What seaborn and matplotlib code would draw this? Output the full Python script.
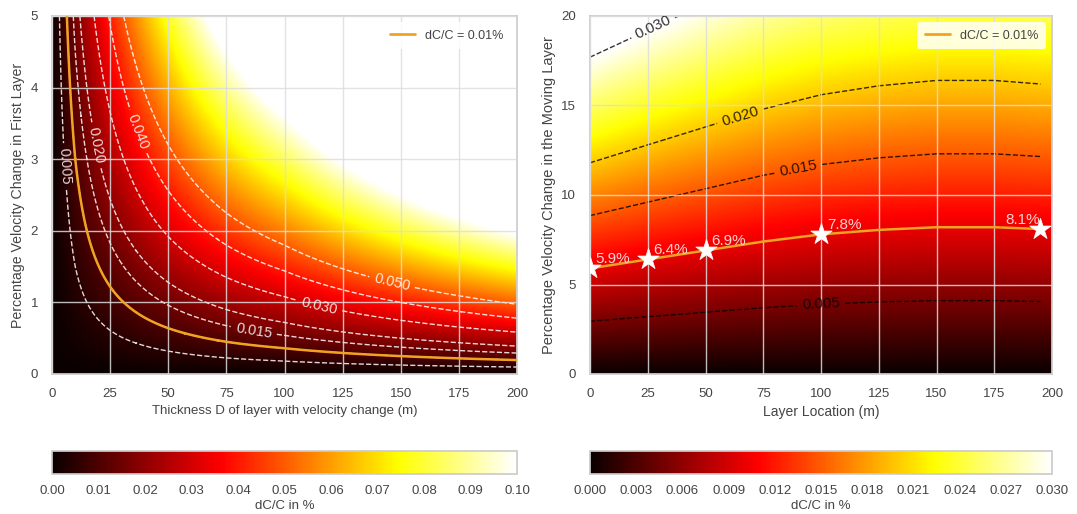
import numpy as np
import seaborn as sns
import matplotlib
matplotlib.use("Agg")
import matplotlib.pyplot as plt
from matplotlib.lines import Line2D

# --- values ---
# left panel: dC/C = 0.01% line (thickness D vs velocity change)
thick_line = [6.4, 10, 15, 25, 50, 75, 100, 150, 200]
dv_line_left = [5.0, 3.0, 2.0, 1.22, 0.64, 0.45, 0.36, 0.25, 0.195]
plain_lev_left = [0.010]
label_lev_left = [0.005, 0.015, 0.020, 0.030, 0.040, 0.050]
label_pos_left = [(7, 2.9), (87, 0.65), (20, 3.2), (115, 0.95), (38, 3.4), (146, 1.25)]

# right panel: dC/C = 0.01% line (layer location vs velocity change)
loc_line = [0, 25, 50, 75, 100, 125, 150, 175, 195]
dv_line_right = [5.9, 6.4, 6.9, 7.4, 7.8, 8.05, 8.2, 8.2, 8.1]
star_loc = [0, 25, 50, 100, 195]
star_dv = [5.9, 6.4, 6.9, 7.8, 8.1]
star_txt = ["5.9%", "6.4%", "6.9%", "7.8%", "8.1%"]
plain_lev_right = [0.010]
label_lev_right = [0.005, 0.015, 0.020, 0.030]
label_pos_right = [(100, 4.1), (90, 11.6), (65, 14.4), (30, 18.6)]

sns.set_theme(style="whitegrid")
plt.rcParams["font.family"] = ["Liberation Sans", "DejaVu Sans"]
plt.rcParams["font.size"] = 9.5
orange = "#f0a322"
txt_col = "#444444"
fs = 9.5

fig = plt.figure(figsize=(10.77, 5.14), dpi=100)
W, H = 1077, 514
def box(x0, y0, x1, y1):
    return [x0 / W, 1 - y1 / H, (x1 - x0) / W, (y1 - y0) / H]

ax1 = fig.add_axes(box(52, 16, 517, 374))
ax2 = fig.add_axes(box(590, 16, 1052, 374))
cax1 = fig.add_axes(box(52, 451, 517, 474))
cax2 = fig.add_axes(box(590, 451, 1052, 474))

# ---- left field ----
xs = np.linspace(0, 200, 801)
ys = np.linspace(0, 5, 501)
X, Y = np.meshgrid(xs, ys)
prod = np.interp(xs, thick_line, np.array(thick_line) * np.array(dv_line_left))
Z1 = 0.01 * X * Y / prod[None, :]
im1 = ax1.imshow(Z1, extent=[0, 200, 0, 5], origin="lower", aspect="auto",
                 cmap="hot", vmin=0, vmax=0.1, interpolation="bilinear", zorder=0)
ckw = dict(colors="white", linestyles="--", linewidths=1.0, alpha=0.85, zorder=1)
ax1.contour(X, Y, Z1, levels=plain_lev_left, **ckw)
cs1 = ax1.contour(X, Y, Z1, levels=label_lev_left, **ckw)
ax1.clabel(cs1, fmt="%.3f", fontsize=10.5, manual=label_pos_left, inline=True)
# the orange 0.01% line, traced through the field built from the read points
ax1.contour(X, Y, Z1, levels=[0.01], colors=orange, linewidths=1.8, zorder=3)
ax1.set_xlim(0, 200)
ax1.set_ylim(0, 5)
ax1.set_xticks(np.arange(0, 201, 25))
ax1.set_yticks(np.arange(0, 6, 1))
ax1.set_xlabel("Thickness D of layer with velocity change (m)", color=txt_col, fontsize=fs)
ax1.set_ylabel("Percentage Velocity Change in First Layer", color=txt_col, fontsize=10.2)

# ---- right field ----
xr = np.linspace(0, 200, 401)
yr = np.linspace(0, 20, 401)
XR, YR = np.meshgrid(xr, yr)
curve_r = np.interp(xr, loc_line, dv_line_right)
Z2 = 0.01 * YR / curve_r[None, :]
im2 = ax2.imshow(Z2, extent=[0, 200, 0, 20], origin="lower", aspect="auto",
                 cmap="hot", vmin=0, vmax=0.03, interpolation="bilinear", zorder=0)
m = xr <= 195
ckw2 = dict(colors="black", linestyles="--", linewidths=1.0, alpha=0.8, zorder=1)
ax2.contour(XR[:, m], YR[:, m], Z2[:, m], levels=plain_lev_right, **ckw2)
cs2 = ax2.contour(XR[:, m], YR[:, m], Z2[:, m], levels=label_lev_right, **ckw2)
ax2.clabel(cs2, fmt="%.3f", fontsize=11, manual=label_pos_right, inline=True)
sns.lineplot(x=loc_line, y=dv_line_right, ax=ax2, color=orange, lw=1.8,
             legend=False, zorder=3)
sns.scatterplot(x=star_loc, y=star_dv, ax=ax2, marker="*", s=260, color="white",
                edgecolor="white", linewidth=0.5, zorder=4, legend=False)
for xv, yv, t in zip(star_loc, star_dv, star_txt):
    dx = -15 if xv > 190 else 2.5
    ax2.text(xv + dx, yv + 0.3, t, color="#ffd2d2", fontsize=11, zorder=5)
ax2.set_xlim(0, 200)
ax2.set_ylim(0, 20)
ax2.set_xticks(np.arange(0, 201, 25))
ax2.set_yticks(np.arange(0, 21, 5))
ax2.set_xlabel("Layer Location (m)", color=txt_col, fontsize=10)
ax2.set_ylabel("Percentage Velocity Change in the Moving Layer", color=txt_col, fontsize=10.5)

for ax in (ax1, ax2):
    ax.set_axisbelow(False)
    ax.grid(True, color="#dddddd", lw=1.0, alpha=0.85, zorder=2)
    ax.tick_params(colors=txt_col, labelsize=fs, pad=4)
    for s in ax.spines.values():
        s.set_color("#cccccc")
    handle = Line2D([], [], color=orange, lw=2)
    leg = ax.legend([handle], ["dC/C = 0.01%"], loc="upper right", fontsize=9,
                    frameon=True, facecolor="white", framealpha=0.85,
                    edgecolor="none", handlelength=2.0, borderpad=0.6)
    for t in leg.get_texts():
        t.set_color(txt_col)

# ---- colorbars ----
cb1 = fig.colorbar(im1, cax=cax1, orientation="horizontal",
                   ticks=np.arange(0, 0.1001, 0.01), format="%.2f")
cb2 = fig.colorbar(im2, cax=cax2, orientation="horizontal",
                   ticks=np.arange(0, 0.03001, 0.003), format="%.3f")
for cb in (cb1, cb2):
    cb.set_label("dC/C in %", color=txt_col, fontsize=fs, labelpad=2)
    cb.outline.set_edgecolor("#cccccc")
    cb.ax.tick_params(colors=txt_col, labelsize=fs, length=0, pad=8)
    cb.ax.grid(False)

fig.savefig("out.png", dpi=100)
